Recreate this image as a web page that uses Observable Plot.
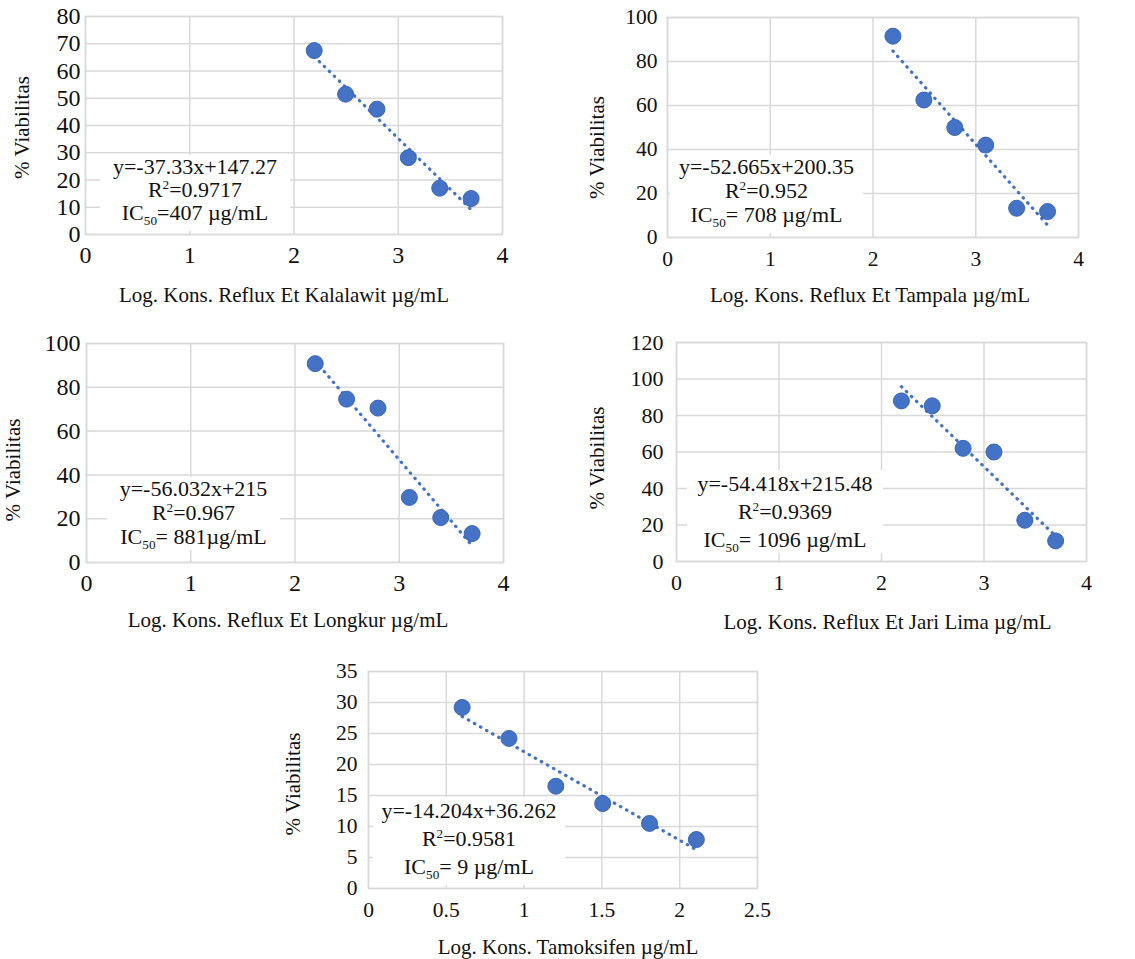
<!DOCTYPE html>
<html><head><meta charset="utf-8">
<script src="https://cdn.jsdelivr.net/npm/d3@7"></script>
<script src="https://cdn.jsdelivr.net/npm/@observablehq/plot@0.6"></script>
<style>
body{margin:0;background:#fff;}
#wrap{position:relative;width:1135px;height:959px;overflow:hidden;font-family:"Liberation Serif","Times New Roman",serif;}
.panel{position:absolute;}
.panel svg, .panel svg text{font-family:"Liberation Serif","Times New Roman",serif !important;}
.note{position:absolute;background:#fff;text-align:center;font-size:22px;color:#111;white-space:nowrap;}
.note sub{font-size:0.6em;vertical-align:-0.4em;line-height:0;}
.note sup{font-size:0.6em;vertical-align:0.6em;line-height:0;}
</style></head><body><div id="wrap"></div>
<script>
// ---- data ----
const logConcExtract = [2.194, 2.495, 2.796, 3.097, 3.398, 3.699];
const logConcTamoksifen = [0.602, 0.903, 1.204, 1.505, 1.806, 2.107];
const viabKalalawit = [67.5, 51.5, 46.0, 28.2, 17.0, 13.2];
const viabTampala = [91.5, 62.5, 50.0, 42.0, 13.3, 11.8];
const viabLongkur = [90.8, 74.6, 70.5, 29.7, 20.5, 13.2];
const viabJariLima = [88.0, 85.3, 62.0, 60.0, 22.6, 11.3];
const viabTamoksifen = [29.2, 24.2, 16.5, 13.7, 10.5, 7.9];

const xTitles = [
  "Log. Kons. Reflux Et Kalalawit µg/mL",
  "Log. Kons. Reflux Et Tampala µg/mL",
  "Log. Kons. Reflux Et Longkur µg/mL",
  "Log. Kons. Reflux Et Jari Lima µg/mL",
  "Log. Kons. Tamoksifen µg/mL"
];
const yTitle = "% Viabilitas";
const equations = ["y=-37.33x+147.27", "y=-52.665x+200.35", "y=-56.032x+215", "y=-54.418x+215.48", "y=-14.204x+36.262"];
const r2Values = ["0.9717", "0.952", "0.967", "0.9369", "0.9581"];
const ic50Texts = ["=407 µg/mL", "= 708 µg/mL", "= 881µg/mL", "= 1096 µg/mL", "= 9 µg/mL"];

const xTicksExtract = [0, 1, 2, 3, 4];
const xTicksTamoksifen = [0, 0.5, 1, 1.5, 2, 2.5];
const yTicks1 = [0, 10, 20, 30, 40, 50, 60, 70, 80];
const yTicks2 = [0, 20, 40, 60, 80, 100];
const yTicks3 = [0, 20, 40, 60, 80, 100];
const yTicks4 = [0, 20, 40, 60, 80, 100, 120];
const yTicks5 = [0, 5, 10, 15, 20, 25, 30, 35];

// ---- layout ----
const panels = [
  {x: logConcExtract, y: viabKalalawit, xt: xTicksExtract, yt: yTicks1,
   left: 0, top: 0, w: 560, h: 310, ml: 85, mr: 58, mt: 16, mb: 76, ypad: 5, tfs: 24, xpad: 11,
   xdx: -10, xdy: 61, ydx: -63, ydy: 2,
   box: {l: 100, t: 155, w: 190, h: 76, lh: 23}},
  {x: logConcExtract, y: viabTampala, xt: xTicksExtract, yt: yTicks2,
   left: 565, top: 0, w: 570, h: 310, ml: 102, mr: 57, mt: 17, mb: 73, ypad: 10, tfs: 21.5, xpad: 13,
   xdx: -3, xdy: 58, ydx: -70, ydy: 20,
   box: {l: 670, t: 155, w: 193, h: 78, lh: 24}},
  {x: logConcExtract, y: viabLongkur, xt: xTicksExtract, yt: yTicks3,
   left: 0, top: 320, w: 560, h: 320, ml: 86, mr: 57, mt: 23, mb: 78, ypad: 6, tfs: 24, xpad: 11,
   xdx: -7, xdy: 58, ydx: -73, ydy: 17,
   box: {l: 107, t: 477, w: 173, h: 73, lh: 24}},
  {x: logConcExtract, y: viabJariLima, xt: xTicksExtract, yt: yTicks4,
   left: 565, top: 320, w: 570, h: 320, ml: 111, mr: 49, mt: 22, mb: 79, ypad: 13, tfs: 22, xpad: 13,
   xdx: 6, xdy: 61, ydx: -79, ydy: 6,
   box: {l: 687, t: 470, w: 196, h: 83, lh: 28}},
  {x: logConcTamoksifen, y: viabTamoksifen, xt: xTicksTamoksifen, yt: yTicks5,
   left: 260, top: 640, w: 620, h: 319, ml: 108, mr: 123, mt: 31, mb: 71, ypad: 11, tfs: 21.5, xpad: 13,
   xdx: 5, xdy: 59, ydx: -75, ydy: 4,
   box: {l: 373, t: 797, w: 192, h: 88, lh: 28}}
];

const wrap = document.getElementById("wrap");
const BLUE = "#4472C4";
const GRID = "#d9d9d9";
const SERIF = "Liberation Serif";

panels.forEach((p, i) => {
  const data = p.x.map((x, k) => ({x, y: p.y[k]}));
  const xt = p.xt, yt = p.yt;
  const chart = Plot.plot({
    width: p.w, height: p.h,
    marginLeft: p.ml, marginRight: p.mr, marginTop: p.mt, marginBottom: p.mb,
    style: {fontFamily: SERIF, fontSize: "21px", color: "#111", background: "transparent", overflow: "visible"},
    x: {domain: [xt[0], xt[xt.length - 1]]},
    y: {domain: [yt[0], yt[yt.length - 1]]},
    marks: [
      Plot.gridX(xt, {stroke: GRID, strokeOpacity: 1, strokeWidth: 1.5}),
      Plot.gridY(yt, {stroke: GRID, strokeOpacity: 1, strokeWidth: 1.5}),
      Plot.frame({stroke: GRID, strokeWidth: 1.5}),
      Plot.axisX(xt, {tickSize: 0, tickPadding: p.xpad, label: null, tickFormat: d => String(d), fontFamily: SERIF, fontSize: p.tfs}),
      Plot.axisY(yt, {tickSize: 0, tickPadding: p.ypad, label: null, tickFormat: d => String(d), fontFamily: SERIF, fontSize: p.tfs}),
      Plot.linearRegressionY(data, {x: "x", y: "y", ci: 0, stroke: BLUE, strokeWidth: 3.2, strokeDasharray: "0.5,6.5", strokeLinecap: "round"}),
      Plot.dot(data, {x: "x", y: "y", r: 8, fill: BLUE, stroke: "#3b66b8", strokeWidth: 1}),
      Plot.text([xTitles[i]], {frameAnchor: "bottom", dx: p.xdx, dy: p.xdy, lineAnchor: "middle", textAnchor: "middle", fontSize: 21, fontFamily: SERIF}),
      Plot.text([yTitle], {frameAnchor: "left", dx: p.ydx, dy: p.ydy, rotate: -90, lineAnchor: "middle", textAnchor: "middle", fontSize: 21, fontFamily: SERIF})
    ]
  });
  const div = document.createElement("div");
  div.className = "panel";
  div.style.left = p.left + "px";
  div.style.top = p.top + "px";
  div.appendChild(chart);
  wrap.appendChild(div);

  const note = document.createElement("div");
  note.className = "note";
  const b = p.box;
  Object.assign(note.style, {left: b.l + "px", top: b.t + "px", width: b.w + "px", height: b.h + "px", lineHeight: b.lh + "px"});
  note.innerHTML = `<div>${equations[i]}</div><div>R<sup>2</sup>=${r2Values[i]}</div><div>IC<sub>50</sub>${ic50Texts[i]}</div>`;
  wrap.appendChild(note);
});
</script>
</body></html>
